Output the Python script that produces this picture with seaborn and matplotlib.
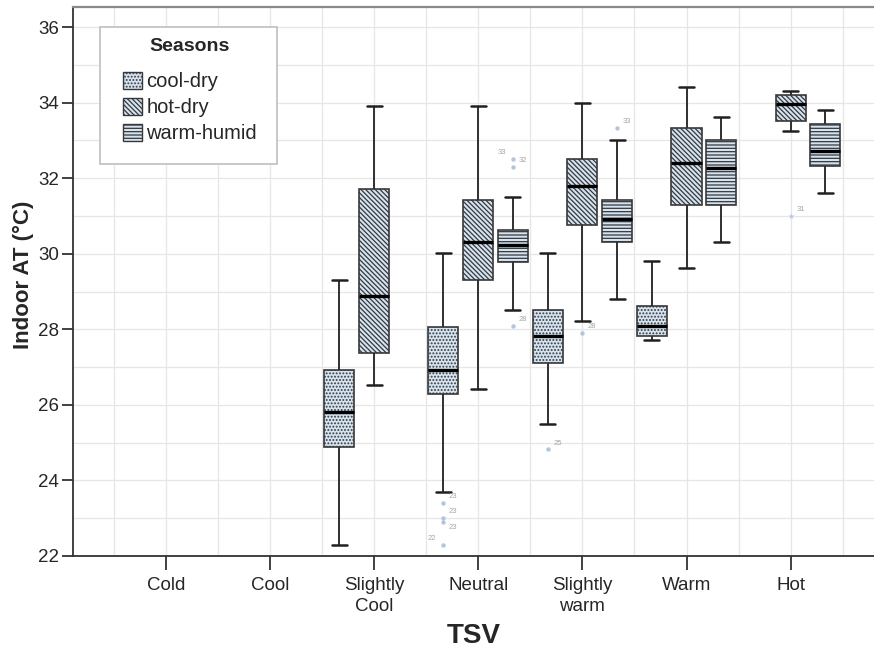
import numpy as np
import pandas as pd
import matplotlib
matplotlib.use("Agg")
import matplotlib.pyplot as plt
import seaborn as sns
from matplotlib.patches import Patch, Rectangle
from matplotlib.ticker import MultipleLocator

# ---------------- data ----------------
tsv_levels = ["Cold", "Cool", "Slightly\nCool", "Neutral", "Slightly\nwarm", "Warm", "Hot"]
seasons = ["cool-dry", "hot-dry", "warm-humid"]
nan = np.nan

# five-number summaries per TSV level: lower whisker, Q1, median, Q3, upper whisker
cool_dry_low = [nan, nan, 22.3, 23.7, 25.5, 27.72, nan]
cool_dry_q1 = [nan, nan, 24.89, 26.3, 27.11, 27.81, nan]
cool_dry_med = [nan, nan, 25.8, 26.91, 27.81, 28.09, nan]
cool_dry_q3 = [nan, nan, 26.91, 28.05, 28.51, 28.61, nan]
cool_dry_high = [nan, nan, 29.31, 30.02, 30.02, 29.81, nan]

hot_dry_low = [nan, nan, 26.52, 26.41, 28.21, 29.61, 33.25]
hot_dry_q1 = [nan, nan, 27.37, 29.31, 30.75, 31.3, 33.51]
hot_dry_med = [nan, nan, 28.87, 30.31, 31.79, 32.41, 33.95]
hot_dry_q3 = [nan, nan, 31.71, 31.41, 32.52, 33.32, 34.21]
hot_dry_high = [nan, nan, 33.92, 33.92, 34.0, 34.41, 34.31]

warm_humid_low = [nan, nan, nan, 28.51, 28.81, 30.31, 31.61]
warm_humid_q1 = [nan, nan, nan, 29.77, 30.31, 31.3, 32.31]
warm_humid_med = [nan, nan, nan, 30.23, 30.91, 32.27, 32.73]
warm_humid_q3 = [nan, nan, nan, 30.62, 31.41, 33.02, 33.43]
warm_humid_high = [nan, nan, nan, 31.51, 33.02, 33.62, 33.8]

# outliers (case labels as printed by SPSS)
outlier_tsv = ["Neutral", "Neutral", "Neutral", "Neutral",
               "Neutral", "Neutral", "Neutral",
               "Slightly\nwarm", "Slightly\nwarm", "Slightly\nwarm", "Hot"]
outlier_season = ["cool-dry", "cool-dry", "cool-dry", "cool-dry",
                  "warm-humid", "warm-humid", "warm-humid",
                  "cool-dry", "hot-dry", "warm-humid", "hot-dry"]
outlier_value = [23.41, 23.0, 22.91, 22.29,
                 32.52, 32.3, 28.09,
                 24.82, 27.9, 33.33, 31.0]
outlier_label = ["23", "23", "23", "22",
                 "33", "32", "28",
                 "25", "28", "33", "31"]
outlier_extreme = [False, False, False, False,
                   False, False, False,
                   False, False, False, True]
# where SPSS put the case label relative to the point: "ur" up-right, "dr" down-right, "ul" up-left
outlier_label_side = ["ur", "ur", "dr", "ul",
                      "ul", "ur", "ur",
                      "ur", "ur", "ur", "ur"]

# ---------------- build long table ----------------
stats = {
    "cool-dry": [cool_dry_low, cool_dry_q1, cool_dry_med, cool_dry_q3, cool_dry_high],
    "hot-dry": [hot_dry_low, hot_dry_q1, hot_dry_med, hot_dry_q3, hot_dry_high],
    "warm-humid": [warm_humid_low, warm_humid_q1, warm_humid_med, warm_humid_q3, warm_humid_high],
}
rows = []
for s in seasons:
    cols = stats[s]
    for i, t in enumerate(tsv_levels):
        vals = [c[i] for c in cols]
        if np.any(np.isnan(vals)):
            continue
        for v in vals:
            rows.append({"TSV": t, "Season": s, "AT": v})
df = pd.DataFrame(rows)

# ---------------- style ----------------
sns.set_style("white")
plt.rcParams["font.family"] = ["Liberation Sans", "DejaVu Sans"]
plt.rcParams["hatch.linewidth"] = 0.9

fill = "#d4e3f1"
edge = "#383838"
hatches = {"cool-dry": ".....", "hot-dry": "\\" * 7, "warm-humid": "-----"}
hatch_colors = {"cool-dry": "#7f93a8", "hot-dry": "#3e4a58", "warm-humid": "#3e4a58"}

W, H = 874, 655
fig = plt.figure(figsize=(W / 100, H / 100), dpi=100)
ax = fig.add_axes([73 / W, 1 - 556 / H, (W - 73) / W, (556 - 7) / H])
aw, ah = W - 73, 556 - 7


def ax_x(px):
    return (px - 73) / aw


def ax_y(py):
    return (556 - py) / ah


box_width = 1.0
sns.boxplot(data=df, x="TSV", y="AT", hue="Season", order=tsv_levels,
            hue_order=seasons, palette={s: fill for s in seasons},
            width=box_width, gap=0.135, whis=(0, 100), showfliers=False,
            linecolor=edge, linewidth=1.2, saturation=1,
            medianprops=dict(color="black", linewidth=2.4),
            whiskerprops=dict(color="#303030", linewidth=1.4),
            capprops=dict(color="#202020", linewidth=1.8),
            legend=False, ax=ax)

n_h = len(seasons)
offsets = [(-0.5 + (k + 0.5) / n_h) * box_width for k in range(n_h)]


def set_hatch(p, season):
    p.set_hatch(hatches[season])
    try:
        p.set_hatchcolor(hatch_colors[season])
    except Exception:
        pass


for p in ax.patches:
    v = p.get_path().vertices
    xc = (v[:, 0].min() + v[:, 0].max()) / 2
    off = xc - round(xc)
    k = int(np.argmin([abs(off - o) for o in offsets]))
    set_hatch(p, seasons[k])
    p.set_edgecolor(edge)

# outliers
side_offsets = {"ur": (4, 2, "left", "bottom"), "dr": (4, -2, "left", "top"),
                "ul": (-5, 2, "right", "bottom")}
for t, s, v, lab, ext, side in zip(outlier_tsv, outlier_season, outlier_value,
                                   outlier_label, outlier_extreme, outlier_label_side):
    xpos = tsv_levels.index(t) + offsets[seasons.index(s)]
    if ext:
        ax.scatter([xpos], [v], marker="*", s=22, color="#b9cce0", zorder=4, linewidths=0)
    else:
        ax.scatter([xpos], [v], marker="o", s=10, color="#b3c5da", zorder=4, linewidths=0)
    dx, dy, ha, va = side_offsets[side]
    ax.annotate(lab, (xpos, v), xytext=(dx, dy),
                textcoords="offset points", fontsize=5.5, color="#a6a6a6",
                ha=ha, va=va)

# axes, grid
ax.set_xlim(-0.89, 6.80)
ax.set_ylim(22, 36.53)
ax.yaxis.set_major_locator(MultipleLocator(2))
ax.yaxis.set_minor_locator(MultipleLocator(1))
ax.xaxis.set_minor_locator(MultipleLocator(0.5))
ax.set_axisbelow(True)
ax.grid(which="both", axis="both", color="#e6e6e6", linewidth=0.9)
ax.tick_params(axis="both", which="minor", length=0)
ax.tick_params(axis="y", which="major", direction="out", length=8, width=1.3,
               color="#333333", labelsize=13.5, pad=2, left=True)
ax.tick_params(axis="x", which="major", direction="out", length=10, width=1.3,
               color="#333333", labelsize=13.5, pad=5, bottom=True)
ax.set_xticks(range(len(tsv_levels)))
ax.set_xticklabels(tsv_levels, linespacing=1.3)

for side in ["left", "bottom"]:
    ax.spines[side].set_color("#333333")
    ax.spines[side].set_linewidth(1.3)
ax.spines["top"].set_color("#8a8a8a")
ax.spines["top"].set_linewidth(1.6)
ax.spines["right"].set_visible(False)

ax.set_xlabel("TSV", fontsize=20, fontweight="bold", labelpad=6)
ax.set_ylabel("Indoor AT (°C)", fontsize=16, fontweight="bold")
ax.yaxis.set_label_coords(ax_x(34), ax_y(275))

# legend frame (SPSS style box) drawn separately
frame = Rectangle((ax_x(100), ax_y(164)), 177 / aw, 137 / ah, transform=ax.transAxes,
                  facecolor="white", edgecolor="#c4c4c4", linewidth=1.3, zorder=4.5)
ax.add_patch(frame)

handles = []
for s in seasons:
    h = Patch(facecolor=fill, edgecolor=edge, hatch=hatches[s], linewidth=1.0, label=s)
    try:
        h.set_hatchcolor(hatch_colors[s])
    except Exception:
        pass
    handles.append(h)
leg = ax.legend(handles=handles, title="Seasons", loc="upper left",
                bbox_to_anchor=(ax_x(123), ax_y(38)),
                fontsize=14.5, title_fontproperties={"weight": "bold", "size": 14},
                frameon=False,
                handlelength=0.95, handleheight=0.95, handletextpad=0.2,
                borderpad=0, labelspacing=0.32, borderaxespad=0)
leg.set_zorder(6)
leg._legend_box.align = "center"
leg._legend_box.sep = 12

fig.savefig("out.png", dpi=100)
